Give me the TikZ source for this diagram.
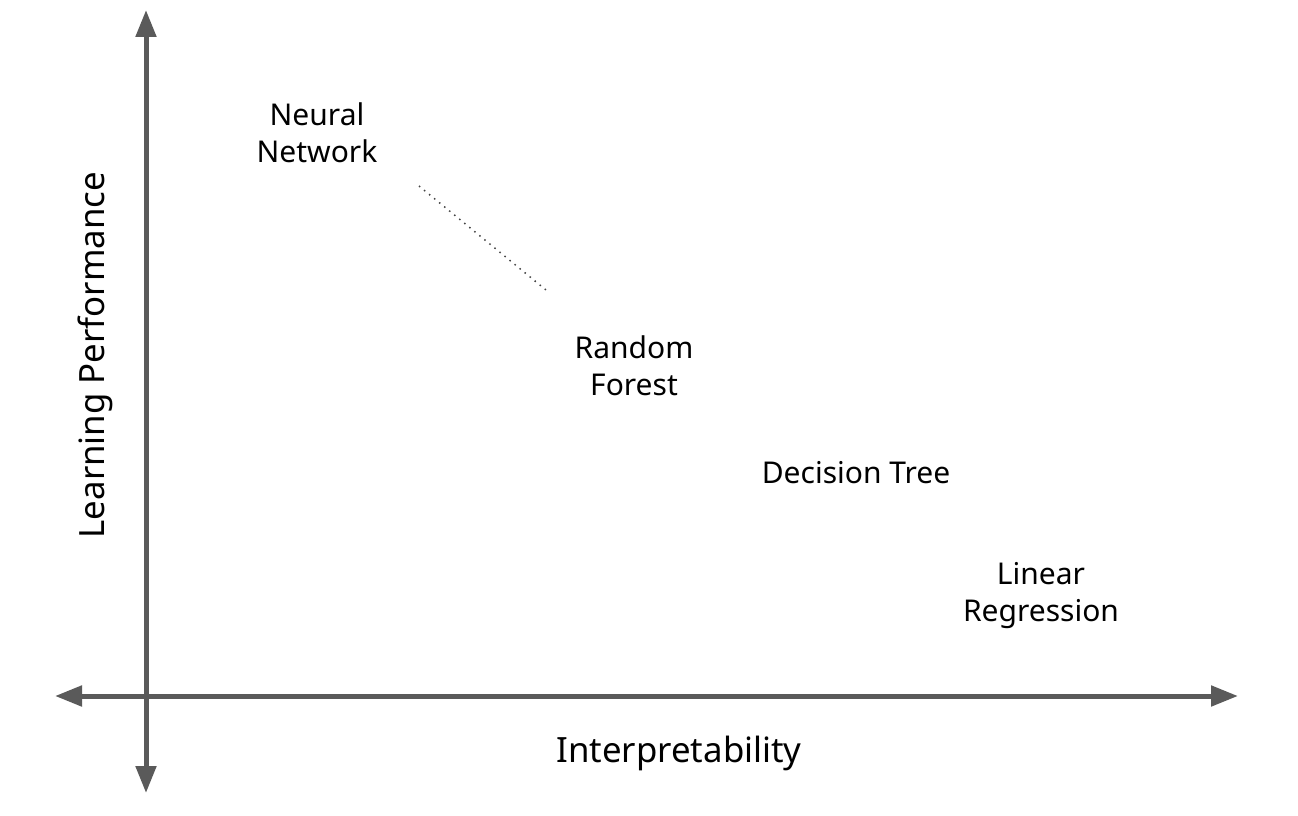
\documentclass[tikz,border=0pt]{standalone}
\usepackage{fontspec}
\setmainfont{Noto Sans}
\usetikzlibrary{arrows.meta}
\definecolor{axisgray}{HTML}{5A5A5A}
\definecolor{dotgray}{HTML}{444444}
\tikzset{
  axis/.style={draw=axisgray, line width=5pt, {Triangle[length=27pt,width=20pt]}-{Triangle[length=27pt,width=20pt]}},
  lbl/.style={align=center, font=\fontsize{30}{37}\selectfont, inner sep=0pt},
  axlbl/.style={font=\fontsize{34.8}{40}\selectfont, inner sep=0pt},
}
\begin{document}
\begin{tikzpicture}[x=1pt,y=-1pt]
\useasboundingbox (0,0) rectangle (1298,816);
\coordinate (xl) at (55,696);
\coordinate (xr) at (1238,696);
\coordinate (yt) at (146,10);
\coordinate (yb) at (146,793);
\draw[axis] (xl) -- (xr);
\draw[axis] (yb) -- (yt);
\node[lbl] (nn) at (317,133) {Neural\\Network};
\node[lbl] (rf) at (634,366) {Random\\Forest};
\node[lbl] (dt) at (856,473) {Decision Tree};
\node[lbl] (lr) at (1041,596) {Linear\\Regression};
\node[axlbl] (xlab) at (679,753) {Interpretability};
\node[axlbl, rotate=90] (ylab) at (95,355) {Learning Performance};
\coordinate (d1) at (419,186);
\coordinate (d2) at (546,290);
\draw[dotgray, line width=1.5pt, dash pattern=on 1.5pt off 5pt] (d1) -- (d2);
\end{tikzpicture}
\end{document}
